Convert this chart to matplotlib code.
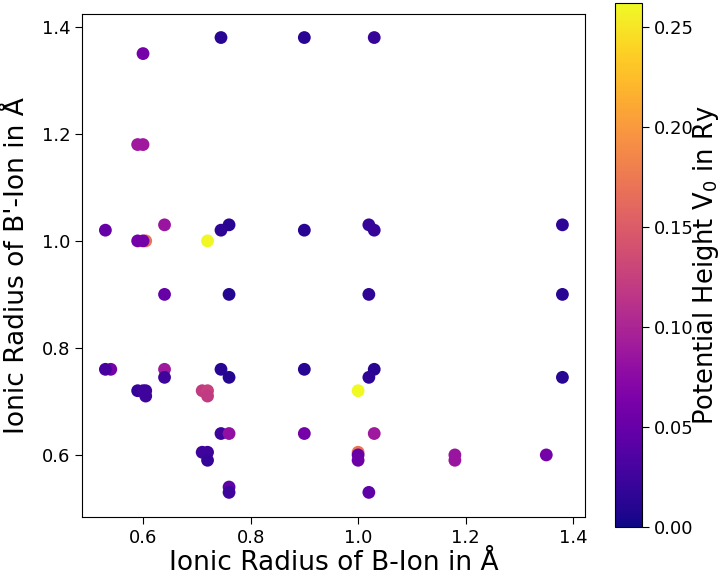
import matplotlib
matplotlib.use("Agg")
import matplotlib.pyplot as plt
import numpy as np

# Ionic radius of B-ion (x), B'-ion (y), potential height V0 (colour)
r_b = [0.745, 0.9, 1.03, 0.6, 0.59, 0.6,
       0.64, 0.76, 1.02, 1.38,
       0.53, 0.745, 0.9, 1.03,
       0.605, 0.59, 0.6, 0.72,
       0.64, 0.76, 1.02, 1.38,
       0.54, 0.53, 0.64, 0.745, 0.9, 1.03,
       0.64, 0.76, 1.02, 1.38,
       0.59, 0.6, 0.605, 0.605, 0.71, 0.72, 0.72, 1.0,
       0.745, 0.76, 0.9, 1.03,
       0.71, 0.72, 0.72, 1.0, 1.0, 1.0, 1.18, 1.18, 1.35,
       0.76, 0.76, 1.02]
r_bp = [1.38, 1.38, 1.38, 1.35, 1.18, 1.18,
        1.03, 1.03, 1.03, 1.03,
        1.02, 1.02, 1.02, 1.02,
        1.0, 1.0, 1.0, 1.0,
        0.9, 0.9, 0.9, 0.9,
        0.76, 0.76, 0.76, 0.76, 0.76, 0.76,
        0.745, 0.745, 0.745, 0.745,
        0.72, 0.72, 0.72, 0.71, 0.72, 0.72, 0.71, 0.72,
        0.64, 0.64, 0.64, 0.64,
        0.605, 0.605, 0.59, 0.605, 0.6, 0.59, 0.6, 0.59, 0.6,
        0.54, 0.53, 0.53]
v0 = [0.012, 0.012, 0.02, 0.06, 0.09, 0.09,
      0.085, 0.012, 0.02, 0.015,
      0.05, 0.015, 0.012, 0.02,
      0.17, 0.06, 0.06, 0.26,
      0.05, 0.01, 0.015, 0.012,
      0.06, 0.03, 0.09, 0.012, 0.012, 0.012,
      0.025, 0.01, 0.015, 0.012,
      0.02, 0.025, 0.025, 0.025, 0.12, 0.125, 0.12, 0.262,
      0.025, 0.08, 0.06, 0.09,
      0.025, 0.025, 0.02, 0.17, 0.05, 0.055, 0.085, 0.085, 0.06,
      0.045, 0.025, 0.045]

x_ticks = [0.6, 0.8, 1.0, 1.2, 1.4]
y_ticks = [0.6, 0.8, 1.0, 1.2, 1.4]
cb_ticks = [0.0, 0.05, 0.10, 0.15, 0.20, 0.25]

fig = plt.figure(figsize=(7.21, 5.78), dpi=100)
ax = fig.add_axes([82/721, 1-517/578, 503/721, 503/578])
cax = fig.add_axes([615/721, 1-527/578, 27/721, 524/578])

sc = ax.scatter(r_b, r_bp, c=v0, cmap="plasma", vmin=0.0, vmax=0.262, s=85,
                linewidths=0)
ax.set_xlim(0.4865, 1.422)
ax.set_ylim(0.484, 1.424)
ax.set_xticks(x_ticks)
ax.set_yticks(y_ticks)
ax.tick_params(labelsize=13, length=5)
ax.set_xlabel("Ionic Radius of B-Ion in Å", fontsize=19, labelpad=2)
ax.set_ylabel("Ionic Radius of B'-Ion in Å", fontsize=19, labelpad=8)

cb = fig.colorbar(sc, cax=cax, ticks=cb_ticks)
cb.ax.set_yticklabels([f"{t:.2f}" for t in cb_ticks])
cb.ax.tick_params(labelsize=13, length=5)
cb.set_label("Potential Height V$\\mathregular{_0}$ in Ry", fontsize=18.5, labelpad=-2)
cb.outline.set_linewidth(0.8)

fig.savefig("out.png", dpi=100)
